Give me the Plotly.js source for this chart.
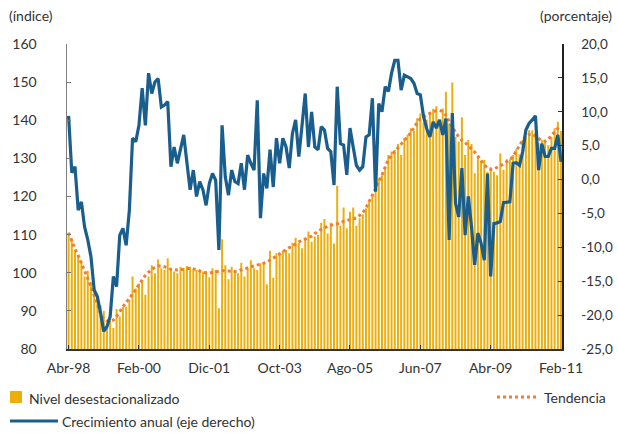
<!DOCTYPE html>
<html>
<head>
<meta charset="utf-8">
<script src="https://cdn.plot.ly/plotly-3.0.1.min.js"></script>
<style>html,body{margin:0;padding:0;background:#fff}#chart{width:618px;height:433px}</style>
</head>
<body>
<div id="chart"></div>
<script>
// Month categories Apr-1998 .. Feb-2011
const monthNames = ['Ene','Feb','Mar','Abr','May','Jun','Jul','Ago','Sep','Oct','Nov','Dic'];
const months = [];
for (let y = 1998; y <= 2011; y++) {
  for (let m = 0; m < 12; m++) {
    if (y === 1998 && m < 3) continue;
    if (y === 2011 && m > 1) continue;
    months.push(monthNames[m] + '-' + String(y).slice(2));
  }
}
const tickLabels = ['Abr-98','Feb-00','Dic-01','Oct-03','Ago-05','Jun-07','Abr-09','Feb-11'];
const rightTickVals = [-25,-20,-15,-10,-5,0,5,10,15,20];
const rightTickText = ['-25,0','-20,0','-15,0','-10,0','-5,0','0,0','5,0','10,0','15,0','20,0'];

// Nivel desestacionalizado (índice)
const nivel = [
 110.5,108.5,106.0,104.5,103.0,99.0,100.5,97.5,96.5,94.0,
 91.5,90.0,86.5,87.5,85.5,90.5,88.5,91.0,91.1,93.0,
 99.0,95.9,97.2,98.1,94.2,99.0,102.0,99.9,103.5,101.2,
 100.7,103.8,101.2,100.3,99.9,101.6,101.2,101.8,101.6,100.7,
 100.7,100.3,100.3,100.3,98.8,101.2,100.7,90.7,108.8,102.0,
 98.3,101.6,100.7,99.9,102.6,99.0,101.2,103.3,101.2,100.7,
 102.5,102.6,97.0,105.8,98.7,105.1,104.7,105.8,106.0,105.1,
 107.9,109.2,107.9,106.4,109.1,110.8,108.1,109.5,109.9,113.1,
 114.1,110.3,113.1,107.7,122.8,112.3,117.1,111.7,116.0,117.1,
 112.3,114.3,115.3,116.9,118.6,120.0,121.3,124.8,125.6,127.4,
 130.9,131.8,132.2,133.8,130.9,135.3,136.1,137.9,137.2,140.5,
 141.8,139.4,140.1,142.2,143.0,143.7,140.1,143.1,147.5,139.2,
 149.9,135.7,134.4,140.8,130.9,134.8,133.8,126.1,130.3,129.4,
 129.6,126.5,127.7,126.5,125.6,131.3,127.0,129.8,129.8,130.9,
 132.4,131.1,134.8,135.7,137.4,137.4,136.6,134.0,134.8,134.4,
 133.5,135.7,137.9,139.6,137.2
];

// Tendencia (índice)
const tendencia = [
 110.5,108.2,106.3,104.5,102.6,100.7,98.5,96.3,94.2,91.8,
 89.2,88.0,87.4,87.3,87.6,88.5,89.8,91.2,92.3,93.2,
 94.5,95.7,96.9,98.1,99.3,100.1,100.9,101.4,101.8,101.8,
 101.6,101.3,100.9,100.8,100.7,100.8,101.0,101.2,101.2,101.0,
 100.9,100.5,100.1,100.0,99.9,100.1,100.3,100.4,100.5,100.5,
 100.5,100.4,100.3,100.5,100.7,101.0,101.2,101.5,101.8,102.0,
 102.2,102.5,102.8,103.2,103.8,104.4,105.0,105.6,106.1,106.6,
 107.0,107.6,108.1,108.5,108.8,109.1,109.6,110.3,110.9,111.4,
 111.8,112.1,112.5,112.7,112.8,113.2,113.5,113.7,113.9,114.0,
 114.4,115.0,115.8,117.0,118.6,120.3,121.8,123.7,125.6,127.8,
 129.8,130.8,131.8,132.8,133.5,134.5,135.5,136.7,138.0,139.4,
 140.4,141.0,141.4,141.8,142.2,142.5,142.6,142.3,141.3,139.7,
 138.2,136.8,135.6,134.7,134.1,133.3,132.6,131.7,130.6,129.4,
 128.3,127.5,127.1,127.2,127.6,128.0,128.5,129.1,129.6,130.6,
 132.0,133.2,134.7,135.8,136.3,136.4,135.8,135.1,134.6,134.5,
 135.0,136.0,137.1,137.9,138.5
];

// Crecimiento anual (%) - eje derecho
const crecimiento = [
 9.4,1.0,1.9,-4.5,-3.3,-7.0,-8.9,-11.4,-16.3,-17.3,
 -19.7,-22.4,-21.7,-20.2,-14.3,-15.8,-8.2,-7.2,-9.7,-4.5,
 6.1,5.6,8.0,13.5,8.0,15.7,12.7,14.4,14.9,10.7,
 11.0,11.5,1.9,4.8,2.4,4.5,6.6,2.5,-1.5,1.4,
 -2.5,-0.3,-1.5,-3.8,-0.6,0.9,-0.1,-10.4,8.0,0.4,
 -2.3,1.4,-0.3,-0.6,2.4,-1.5,3.6,2.4,1.4,11.7,
 -5.7,0.9,-1.3,4.4,-1.1,6.1,2.4,6.1,4.8,1.7,
 6.8,8.8,3.4,8.0,12.7,4.8,10.0,4.8,4.4,7.8,
 7.3,4.6,4.1,-0.8,13.7,5.3,5.1,0.7,7.6,4.8,
 2.1,1.4,1.9,6.3,6.6,12.0,-1.8,11.2,10.0,13.7,
 13.0,15.7,17.6,17.6,13.2,15.4,15.2,14.9,14.2,12.7,
 12.5,9.3,7.5,6.3,8.5,7.6,8.8,6.6,9.0,-8.9,
 9.8,-3.5,-5.5,1.7,-8.2,-2.5,-7.0,-12.6,-7.9,-9.4,
 -11.9,0.9,-14.3,-6.5,-6.4,-6.2,-3.4,-3.4,-3.3,2.4,
 2.5,2.1,4.1,7.3,8.3,8.8,9.4,1.4,5.3,3.4,
 3.4,4.6,4.6,6.6,2.6
];

const barColor = '#ECAE0B';
const trendColor = '#EF7E32';
const lineColor = '#1A5E8E';
const textColor = '#333333';
const FONT = 'Lato, "Open Sans", sans-serif';

// plot area in pixels
const L = 67, R = 562, T = 44, B = 349;
const px = v => (v - L) / (R - L);
const py = v => (B - v) / (B - T);

const traces = [
  {type: 'bar', x: months, y: nivel, marker: {color: barColor, line: {width: 0}},
   width: 0.62, name: 'Nivel desestacionalizado', hoverinfo: 'x+y'},
  {type: 'scatter', mode: 'lines', x: months, y: tendencia,
   line: {color: trendColor, width: 3, dash: '3px,3px'}, name: 'Tendencia'},
  {type: 'scatter', mode: 'lines', x: months, y: crecimiento, yaxis: 'y2',
   line: {color: lineColor, width: 3.2}, name: 'Crecimiento anual (eje derecho)'}
];

const shapes = [
  {type: 'rect', xref: 'paper', yref: 'paper', x0: px(10), x1: px(22), y0: py(403), y1: py(391),
   fillcolor: barColor, line: {width: 0}},
  {type: 'line', xref: 'paper', yref: 'paper', x0: px(497), x1: px(536), y0: py(397), y1: py(397),
   line: {color: trendColor, width: 3, dash: '3px,3px'}},
  {type: 'line', xref: 'paper', yref: 'paper', x0: px(10), x1: px(58), y0: py(421), y1: py(421),
   line: {color: lineColor, width: 3}}
];

const ann = (text, x, y, xanchor) => ({text, xref: 'paper', yref: 'paper', x: px(x), y: py(y),
  xanchor, yanchor: 'middle', showarrow: false, font: {family: FONT, size: 14, color: textColor}});

const annotations = [
  ann('(índice)', 7, 15, 'left'),
  ann('(porcentaje)', 614, 15, 'right'),
  ann('Nivel desestacionalizado', 27, 398, 'left'),
  ann('Tendencia', 542, 397, 'left'),
  ann('Crecimiento anual (eje derecho)', 60, 421, 'left')
];

const layout = {
  width: 618, height: 433,
  margin: {l: L, r: 618 - R, t: T, b: 433 - B, pad: 0},
  paper_bgcolor: '#ffffff', plot_bgcolor: '#ffffff',
  separators: ',.',
  showlegend: false,
  bargap: 0.35,
  font: {family: FONT, size: 14, color: textColor},
  xaxis: {
    type: 'category', range: [-0.5, 154.3],
    tickmode: 'array', tickvals: tickLabels, ticktext: tickLabels,
    ticks: 'inside', ticklen: 4, tickcolor: '#333', showgrid: false, zeroline: false,
    showline: true, linecolor: '#333', linewidth: 1.5,
    tickfont: {family: FONT, size: 14, color: textColor}, ticklabelstandoff: 6
  },
  yaxis: {
    range: [80, 160], dtick: 10, tick0: 80,
    ticks: 'inside', ticklen: 4, tickcolor: '#777', showgrid: false, zeroline: false,
    showline: true, linecolor: '#808080', linewidth: 1.5,
    tickfont: {family: FONT, size: 14, color: textColor}, ticklabelstandoff: 26
  },
  yaxis2: {
    overlaying: 'y', side: 'right',
    range: [-25, 20], tickmode: 'array', tickvals: rightTickVals, ticktext: rightTickText,
    ticks: 'inside', ticklen: 4, tickcolor: '#333', showgrid: false, zeroline: false,
    showline: true, linecolor: '#222', linewidth: 1.5,
    tickfont: {family: FONT, size: 13.5, color: textColor}, ticklabelstandoff: 15
  },
  shapes, annotations
};

Plotly.newPlot('chart', traces, layout, {staticPlot: true, displayModeBar: false});
</script>
</body>
</html>
